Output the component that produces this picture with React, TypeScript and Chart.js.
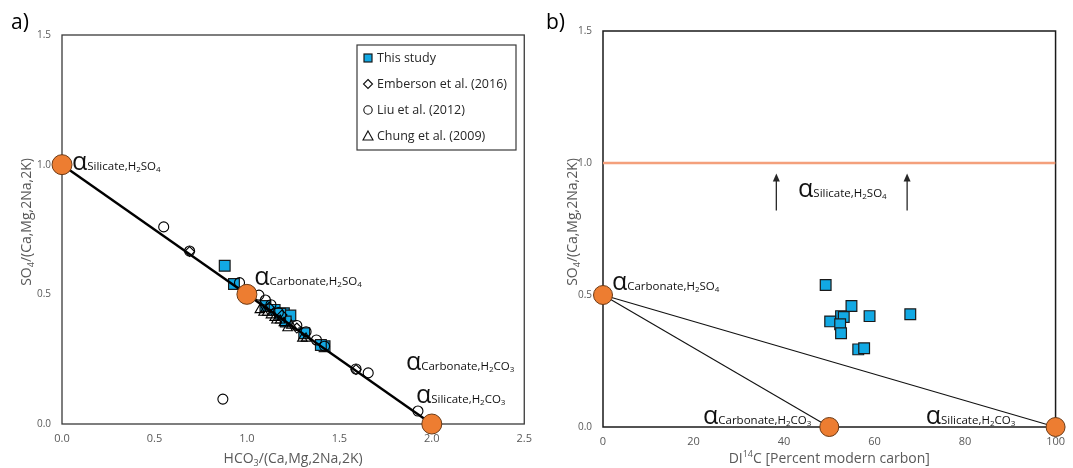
import React, { useEffect, useRef } from "react";
import { Chart, registerables } from "chart.js";
Chart.register(...registerables);

const FONT = "'Open Sans', 'DejaVu Sans', sans-serif";
const TICK = "#595959";

// ---------- Panel a data ----------
const xTicksA = ["0.0", "0.5", "1.0", "1.5", "2.0", "2.5"];
const yTicksA = ["0.0", "0.5", "1.0", "1.5"];
const mixLineX = [0, 2];
const mixLineY = [1, 0];
const endX = [0, 1, 2];
const endY = [1, 0.5, 0];
const thisStudyX = [0.88, 0.93, 1.1, 1.15, 1.2, 1.235, 1.21, 1.31, 1.42, 1.4, 1.18];
const thisStudyY = [0.61, 0.54, 0.455, 0.44, 0.427, 0.418, 0.395, 0.35, 0.3, 0.305, 0.425];
const embersonX = [0.69, 1.59, 1.12, 1.19, 1.27];
const embersonY = [0.665, 0.21, 0.45, 0.42, 0.37];
const liuX = [0.55, 0.69, 0.87, 0.96, 1.02, 1.065, 1.1, 1.13, 1.17, 1.27, 1.32, 1.376, 1.42, 1.59, 1.656, 1.925];
const liuY = [0.76, 0.667, 0.096, 0.545, 0.51, 0.497, 0.478, 0.46, 0.43, 0.38, 0.356, 0.324, 0.3, 0.212, 0.197, 0.05];
const chungX = [1.07, 1.09, 1.11, 1.13, 1.15, 1.16, 1.18, 1.2, 1.22, 1.24, 1.3, 1.32];
const chungY = [0.44, 0.43, 0.43, 0.42, 0.41, 0.4, 0.4, 0.39, 0.37, 0.38, 0.33, 0.33];
const legendLabels = ["This study", "Emberson et al. (2016)", "Liu et al. (2012)", "Chung et al. (2009)"];

// ---------- Panel b data ----------
const xTicksB = ["0", "20", "40", "60", "80", "100"];
const yTicksB = ["0.0", "0.5", "1.0", "1.5"];
const dicThis = [49.2, 54.9, 52.6, 53.2, 50.2, 52.4, 52.6, 58.9, 67.9, 56.4, 57.7];
const soThisB = [0.538, 0.458, 0.42, 0.417, 0.4, 0.389, 0.355, 0.42, 0.427, 0.294, 0.298];
const endBX = [0, 50, 100];
const endBY = [0.5, 0, 0];
const silH2SO4X = [0, 100];
const silH2SO4Y = [1, 1];
const arrowX = [38.3, 67.2];
const arrowY = [0.82, 0.96];

type Part = { t: string; s: number; dy?: number };
const sub = (t: string): Part => ({ t, s: 8, dy: 2 });
const alphaLabel = (name: string, acid: Part[]): Part[] => [
  { t: "α", s: 25 },
  { t: name + ",H", s: 11.5 },
  ...acid,
];
const H2SO4: Part[] = [sub("2"), { t: "SO", s: 11.5 }, sub("4")];
const H2CO3: Part[] = [sub("2"), { t: "CO", s: 11.5 }, sub("3")];

function drawRich(ctx: CanvasRenderingContext2D, parts: Part[], x: number, y: number, align: "left" | "center", color: string, rot = 0) {
  ctx.save();
  ctx.translate(x, y);
  if (rot) ctx.rotate(rot);
  ctx.fillStyle = color;
  ctx.textBaseline = "alphabetic";
  ctx.textAlign = "left";
  const widths = parts.map((p) => {
    ctx.font = `${p.s}px ${FONT}`;
    return ctx.measureText(p.t).width;
  });
  const total = widths.reduce((a, b) => a + b, 0);
  let cx = align === "center" ? -total / 2 : 0;
  parts.forEach((p, i) => {
    ctx.font = `${p.s}px ${FONT}`;
    ctx.fillText(p.t, cx, p.dy || 0);
    cx += widths[i];
  });
  ctx.restore();
}

function pts(xs: number[], ys: number[]) {
  return xs.map((x, i) => ({ x, y: ys[i] }));
}

function axisCfg(min: number, max: number, step: number, labels: string[], size: number, fit: (s: any) => void, pad: number) {
  return {
    type: "linear" as const,
    min,
    max,
    afterFit: fit,
    grid: { display: false, drawTicks: false },
    border: { display: false },
    ticks: {
      stepSize: step,
      autoSkip: false,
      maxRotation: 0,
      padding: pad,
      color: TICK,
      font: { family: FONT, size },
      callback: (_v: any, i: number) => labels[i],
    },
  };
}

function frame(chart: any, color: string, w: number) {
  const { ctx, chartArea: a } = chart;
  ctx.save();
  ctx.strokeStyle = color;
  ctx.lineWidth = w;
  ctx.strokeRect(a.left, a.top, a.right - a.left, a.bottom - a.top);
  ctx.restore();
}

const SQUARE = { fill: "#12A9E4", border: "#1a1a1a" };
const ORANGE = { fill: "#ED7D31", border: "#6b3a16" };

function PanelA() {
  const ref = useRef<HTMLCanvasElement>(null);
  useEffect(() => {
    const plugin = {
      id: "decorA",
      beforeDatasetsDraw(chart: any) {
        frame(chart, "#3a3a3a", 1.3);
      },
      afterDraw(chart: any) {
        const { ctx, scales, chartArea: a } = chart;
        const X = (v: number) => scales.x.getPixelForValue(v);
        const Y = (v: number) => scales.y.getPixelForValue(v);
        drawRich(ctx, [{ t: "a)", s: 21 }], 11, 29, "left", "#000");
        drawRich(ctx, [{ t: "SO", s: 14 }, { t: "4", s: 9, dy: 3 }, { t: "/(Ca,Mg,2Na,2K)", s: 14 }], 31, 222, "center", TICK, -Math.PI / 2);
        drawRich(ctx, [{ t: "HCO", s: 14 }, { t: "3", s: 9, dy: 3 }, { t: "/(Ca,Mg,2Na,2K)", s: 14 }], (a.left + a.right) / 2, 463, "center", TICK);
        const lab: [Part[], number, number][] = [
          [alphaLabel("Silicate", H2SO4), 0.054, 0.98],
          [alphaLabel("Carbonate", H2SO4), 1.04, 0.536],
          [alphaLabel("Carbonate", H2CO3), 1.86, 0.208],
          [alphaLabel("Silicate", H2CO3), 1.914, 0.081],
        ];
        lab.forEach(([p, x, y]) => drawRich(ctx, p, X(x), Y(y), "left", "#111"));
        // legend
        const bx = 357, by = 45, bw = 159, bh = 105;
        ctx.save();
        ctx.fillStyle = "#fff";
        ctx.fillRect(bx, by, bw, bh);
        ctx.strokeStyle = "#3a3a3a";
        ctx.lineWidth = 1.2;
        ctx.strokeRect(bx, by, bw, bh);
        const rows = [58, 84, 110, 136];
        const mx = 368;
        ctx.fillStyle = SQUARE.fill;
        ctx.strokeStyle = SQUARE.border;
        ctx.lineWidth = 1.2;
        ctx.fillRect(mx - 4, rows[0] - 4, 8, 8);
        ctx.strokeRect(mx - 4, rows[0] - 4, 8, 8);
        ctx.strokeStyle = "#111";
        ctx.lineWidth = 1.1;
        ctx.beginPath();
        ctx.moveTo(mx, rows[1] - 4.5);
        ctx.lineTo(mx + 4.5, rows[1]);
        ctx.lineTo(mx, rows[1] + 4.5);
        ctx.lineTo(mx - 4.5, rows[1]);
        ctx.closePath();
        ctx.stroke();
        ctx.beginPath();
        ctx.arc(mx, rows[2], 4.2, 0, Math.PI * 2);
        ctx.stroke();
        ctx.beginPath();
        ctx.moveTo(mx, rows[3] - 5);
        ctx.lineTo(mx + 5, rows[3] + 4);
        ctx.lineTo(mx - 5, rows[3] + 4);
        ctx.closePath();
        ctx.stroke();
        ctx.fillStyle = "#262626";
        ctx.font = `12.5px ${FONT}`;
        ctx.textBaseline = "middle";
        legendLabels.forEach((t, i) => ctx.fillText(t, 377, rows[i]));
        ctx.restore();
      },
    };
    const chart = new Chart(ref.current!, {
      type: "scatter",
      data: {
        datasets: [
          { data: pts(endX, endY), clip: false, pointStyle: "circle", pointRadius: 10, backgroundColor: ORANGE.fill, borderColor: ORANGE.border, borderWidth: 1 },
          { data: pts(mixLineX, mixLineY), clip: false, showLine: true, pointRadius: 0, borderColor: "#000", borderWidth: 2.4 },
          { data: pts(chungX, chungY), clip: false, pointStyle: "triangle", pointRadius: 5.5, backgroundColor: "rgba(255,255,255,0)", borderColor: "#000", borderWidth: 1.1 },
          { data: pts(liuX, liuY), clip: false, pointStyle: "circle", pointRadius: 5, backgroundColor: "rgba(255,255,255,0)", borderColor: "#000", borderWidth: 1.1 },
          { data: pts(embersonX, embersonY), clip: false, pointStyle: "rectRot", pointRadius: 5, backgroundColor: "rgba(255,255,255,0)", borderColor: "#000", borderWidth: 1.1 },
          { data: pts(thisStudyX, thisStudyY), clip: false, pointStyle: "rect", pointRadius: 7.6, backgroundColor: SQUARE.fill, borderColor: SQUARE.border, borderWidth: 1.2 },
        ],
      },
      options: {
        responsive: false,
        animation: false,
        devicePixelRatio: 1,
        layout: { padding: { left: 0, top: 35, right: 13, bottom: 0 } },
        plugins: { legend: { display: false }, tooltip: { enabled: false } },
        scales: {
          x: axisCfg(0, 2.5, 0.5, xTicksA, 11, (s: any) => { s.height = 44; }, 8),
          y: axisCfg(0, 1.5, 0.5, yTicksA, 10, (s: any) => { s.width = 62; }, 11),
        },
      },
      plugins: [plugin],
    } as any);
    return () => chart.destroy();
  }, []);
  return <canvas ref={ref} width={540} height={468} style={{ position: "absolute", left: 0, top: 0 }} />;
}

function PanelB() {
  const ref = useRef<HTMLCanvasElement>(null);
  useEffect(() => {
    const plugin = {
      id: "decorB",
      beforeDatasetsDraw(chart: any) {
        frame(chart, "#1a1a1a", 1.5);
      },
      afterDraw(chart: any) {
        const { ctx, scales, chartArea: a } = chart;
        const X = (v: number) => scales.x.getPixelForValue(v);
        const Y = (v: number) => scales.y.getPixelForValue(v);
        drawRich(ctx, [{ t: "b)", s: 21 }], 6, 29, "left", "#000");
        drawRich(ctx, [{ t: "SO", s: 14 }, { t: "4", s: 9, dy: 3 }, { t: "/(Ca,Mg,2Na,2K)", s: 14 }], 37, 222, "center", TICK, -Math.PI / 2);
        drawRich(ctx, [{ t: "DI", s: 14 }, { t: "14", s: 9, dy: -6 }, { t: "C [Percent modern carbon]", s: 14 }], (a.left + a.right) / 2, 463, "center", TICK);
        const lab: [Part[], number, number][] = [
          [alphaLabel("Carbonate", H2SO4), 1.97, 0.519],
          [alphaLabel("Silicate", H2SO4), 43.1, 0.871],
          [alphaLabel("Carbonate", H2CO3), 22.1, 0.011],
          [alphaLabel("Silicate", H2CO3), 71.3, 0.011],
        ];
        lab.forEach(([p, x, y]) => drawRich(ctx, p, X(x), Y(y), "left", "#111"));
        ctx.save();
        ctx.strokeStyle = "#262626";
        ctx.fillStyle = "#262626";
        ctx.lineWidth = 1.3;
        arrowX.forEach((ax) => {
          const px = X(ax);
          const y0 = Y(arrowY[0]);
          const y1 = Y(arrowY[1]);
          ctx.beginPath();
          ctx.moveTo(px, y0);
          ctx.lineTo(px, y1 + 6);
          ctx.stroke();
          ctx.beginPath();
          ctx.moveTo(px, y1);
          ctx.lineTo(px + 3.5, y1 + 8);
          ctx.lineTo(px - 3.5, y1 + 8);
          ctx.closePath();
          ctx.fill();
        });
        ctx.restore();
      },
    };
    const chart = new Chart(ref.current!, {
      type: "scatter",
      data: {
        datasets: [
          { data: pts(endBX, endBY), clip: false, pointStyle: "circle", pointRadius: 9.5, backgroundColor: ORANGE.fill, borderColor: ORANGE.border, borderWidth: 1 },
          { data: pts(dicThis, soThisB), clip: false, pointStyle: "rect", pointRadius: 7.6, backgroundColor: SQUARE.fill, borderColor: SQUARE.border, borderWidth: 1.2 },
          { data: [{ x: endBX[0], y: endBY[0] }, { x: endBX[1], y: endBY[1] }], clip: false, showLine: true, pointRadius: 0, borderColor: "#111", borderWidth: 1.1 },
          { data: [{ x: endBX[0], y: endBY[0] }, { x: endBX[2], y: endBY[2] }], clip: false, showLine: true, pointRadius: 0, borderColor: "#111", borderWidth: 1.1 },
          { data: pts(silH2SO4X, silH2SO4Y), showLine: true, pointRadius: 0, borderColor: "#F4A07C", borderWidth: 2.6 },
        ],
      },
      options: {
        responsive: false,
        animation: false,
        devicePixelRatio: 1,
        layout: { padding: { left: 0, top: 31, right: 13, bottom: 0 } },
        plugins: { legend: { display: false }, tooltip: { enabled: false } },
        scales: {
          x: axisCfg(0, 100, 20, xTicksB, 11, (s: any) => { s.height = 41; }, 8),
          y: axisCfg(0, 1.5, 0.5, yTicksB, 10, (s: any) => { s.width = 63; }, 11),
        },
      },
      plugins: [plugin],
    } as any);
    return () => chart.destroy();
  }, []);
  return <canvas ref={ref} width={533} height={468} style={{ position: "absolute", left: 540, top: 0 }} />;
}

export default function App() {
  return (
    <div style={{ position: "fixed", left: 0, top: 0, width: 1073, height: 468, background: "#fff", overflow: "hidden" }}>
      <PanelA />
      <PanelB />
    </div>
  );
}
